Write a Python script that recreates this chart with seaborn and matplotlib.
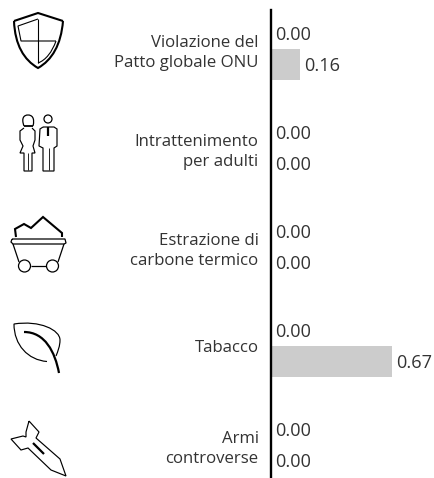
import matplotlib
matplotlib.use('Agg')
import matplotlib.pyplot as plt
import pandas as pd
import seaborn as sns
from matplotlib.patches import Circle, PathPatch
from matplotlib.path import Path

CATEGORIE = [
    'Violazione del\nPatto globale ONU',
    'Intrattenimento\nper adulti',
    'Estrazione di\ncarbone termico',
    'Tabacco',
    'Armi\ncontroverse',
]
SERIE = ['Portafoglio', 'Indice']
VALORI_PORTAFOGLIO = [0.00, 0.00, 0.00, 0.00, 0.00]
VALORI_INDICE = [0.16, 0.00, 0.00, 0.67, 0.00]

GRIGIO = '#cccccc'
TESTO = '#333333'


def linea(ax, punti, lw=0.9):
    xs, ys = zip(*punti)
    ax.plot(xs, ys, color='black', lw=lw, solid_capstyle='butt', solid_joinstyle='miter')


def curva(ax, vertici, lw=0.9):
    # vertici: punto iniziale + triplette di controllo bezier
    codici = [Path.MOVETO] + [Path.CURVE4] * (len(vertici) - 1)
    ax.add_patch(PathPatch(Path(vertici, codici), fill=False, edgecolor='black', lw=lw, capstyle='butt'))


def cerchio(ax, x, y, r, lw=0.9):
    ax.add_patch(Circle((x, y), r, fill=False, edgecolor='black', lw=lw))


def icona_scudo(ax):
    curva(ax, [(14, 21), (15, 45), (24, 60), (38, 68), (52, 60), (61, 45), (63, 21)], lw=1.5)
    linea(ax, [(14, 21), (38, 13), (63, 21)], lw=1.5)
    linea(ax, [(38, 19), (18, 26), (21, 41), (56, 41)], lw=0.8)
    linea(ax, [(38, 19), (38, 63)], lw=0.8)
    curva(ax, [(56, 41), (52, 52), (46, 60), (38, 63)], lw=0.8)


def icona_persone(ax):
    # donna
    curva(ax, [(24, 126), (21, 118), (24, 115), (28, 115), (32, 115), (35, 118), (33, 126)], lw=0.9)
    linea(ax, [(24, 126), (33, 126)], lw=1.3)
    linea(ax, [(24, 128), (20, 131), (20, 140), (23, 146), (20, 153), (24, 153), (24, 171),
               (32, 171), (32, 153), (35, 153), (33, 146), (35, 140), (35, 131), (32, 128)], lw=0.85)
    linea(ax, [(28, 153), (28, 170)], lw=0.6)
    # uomo
    cerchio(ax, 48, 119, 4, lw=0.9)
    linea(ax, [(43, 127), (40, 129), (39, 146), (43, 148), (43, 171), (54, 171),
               (54, 148), (57, 146), (57, 129), (54, 127), (43, 127)], lw=0.85)
    linea(ax, [(48, 127), (48, 136)], lw=1.6)
    linea(ax, [(48.5, 148), (48.5, 170)], lw=0.6)


def icona_carrello(ax):
    linea(ax, [(16, 237), (15, 229), (24, 224), (31, 228), (43, 217), (62, 233), (62, 237)], lw=1.5)
    linea(ax, [(12, 239), (65, 239), (66, 243), (64, 244), (13, 244), (11, 242), (12, 239)], lw=0.9)
    linea(ax, [(13, 244), (19, 262)], lw=0.9)
    linea(ax, [(64, 244), (58, 262)], lw=0.9)
    linea(ax, [(31, 266), (46, 266)], lw=0.9)
    cerchio(ax, 24.5, 266, 6, lw=0.9)
    cerchio(ax, 52.5, 266, 6, lw=0.9)


def icona_foglia(ax):
    curva(ax, [(47, 361.5), (28, 360), (14, 345), (14, 324), (40, 320), (60, 330),
               (60, 340), (60, 346), (58, 351), (56, 356)], lw=0.85)
    curva(ax, [(24, 332), (45, 332), (55, 352), (59, 373)], lw=1.6)


def icona_missile(ax):
    linea(ax, [(29, 421), (39, 432), (36, 438), (60, 459), (66, 476), (51, 470), (28, 448),
               (21, 450), (11, 439), (23, 436), (26, 437), (26, 432), (29, 421)], lw=0.85)
    linea(ax, [(33, 443), (44, 454)], lw=1.6)


def main():
    df = pd.DataFrame({
        'categoria': CATEGORIE * 2,
        'serie': [SERIE[0]] * 5 + [SERIE[1]] * 5,
        'valore': VALORI_PORTAFOGLIO + VALORI_INDICE,
    })

    plt.rcParams['font.family'] = ['Open Sans', 'DejaVu Sans']

    fig = plt.figure(figsize=(4.34, 4.78), dpi=100)
    ax = fig.add_axes([271 / 434, 0, 163 / 434, 468 / 478])

    sns.barplot(
        data=df, y='categoria', x='valore', hue='serie', order=CATEGORIE, hue_order=SERIE,
        palette=[GRIGIO, GRIGIO], width=0.626, gap=0, legend=False, ax=ax,
        errorbar=None, saturation=1,
    )
    ax.set_xlim(0, 163 / 180)
    ax.set_ylim(4.333, -0.394)

    for contenitore in ax.containers:
        etichette = ax.bar_label(contenitore, fmt='%.2f', padding=3, color=TESTO, fontsize=13.1)
        for t in etichette:
            t.xyann = (t.xyann[0], -0.9)

    sns.despine(ax=ax, top=True, right=True, bottom=True)
    ax.spines['left'].set_linewidth(1.7)
    ax.spines['left'].set_color('black')
    ax.set_xticks([])
    ax.set_xlabel('')
    ax.set_ylabel('')
    ax.tick_params(axis='y', length=0, pad=9, labelsize=12.1, labelcolor=TESTO)
    for etichetta in ax.get_yticklabels():
        etichetta.set_multialignment('right')
        etichetta.set_linespacing(1.3)

    # icone in coordinate pixel della figura
    ax_icone = fig.add_axes([0, 0, 1, 1], zorder=-1)
    ax_icone.set_xlim(0, 434)
    ax_icone.set_ylim(478, 0)
    ax_icone.axis('off')
    icona_scudo(ax_icone)
    icona_persone(ax_icone)
    icona_carrello(ax_icone)
    icona_foglia(ax_icone)
    icona_missile(ax_icone)

    ax.patch.set_alpha(0)
    fig.savefig('out.png', dpi=100)


if __name__ == '__main__':
    main()
